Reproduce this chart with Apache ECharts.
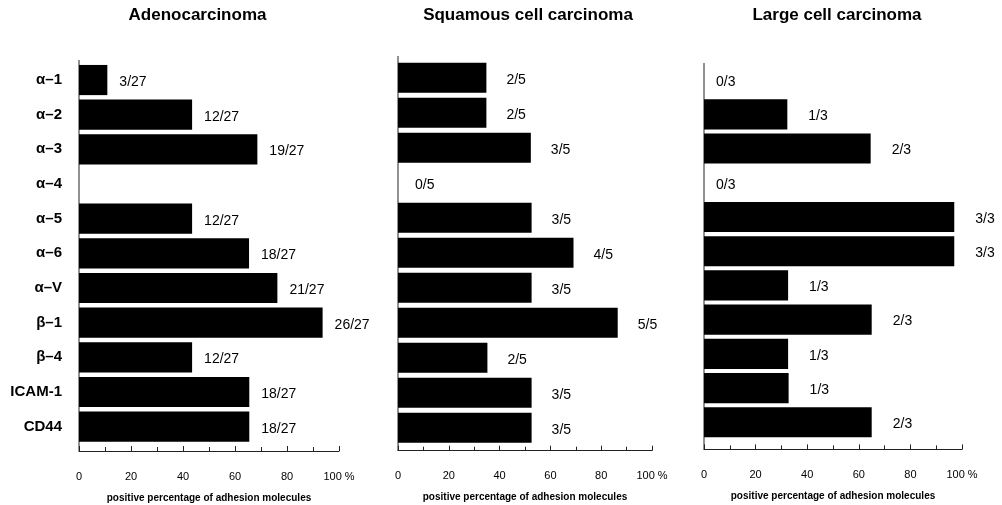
<!DOCTYPE html>
<html>
<head>
<meta charset="utf-8">
<script src="https://cdn.jsdelivr.net/npm/echarts@6/dist/echarts.min.js"></script>
<style>html,body{margin:0;padding:0;background:#fff;}#c{width:1002px;height:505px;}</style>
</head>
<body>
<div id="c"></div>
<script>
var categories = ['α–1','α–2','α–3','α–4','α–5','α–6','α–V','β–1','β–4','ICAM-1','CD44'];
var panelTitles = ['Adenocarcinoma','Squamous cell carcinoma','Large cell carcinoma'];
var adenoValues = [10.9, 43.5, 68.6, 0, 43.5, 65.4, 76.3, 93.7, 43.5, 65.5, 65.5];
var adenoLabels = ['3/27','12/27','19/27','','12/27','18/27','21/27','26/27','12/27','18/27','18/27'];
var squamousValues = [34.8, 34.8, 52.3, 0, 52.6, 69.1, 52.6, 86.5, 35.2, 52.6, 52.6];
var squamousLabels = ['2/5','2/5','3/5','0/5','3/5','4/5','3/5','5/5','2/5','3/5','3/5'];
var largeValues = [0, 32.3, 64.6, 0, 97, 97, 32.6, 65, 32.6, 32.8, 65];
var largeLabels = ['0/3','1/3','2/3','0/3','3/3','3/3','1/3','2/3','1/3','1/3','2/3'];
var xTicks = [0, 20, 40, 60, 80, 100];
var xTitle = 'positive percentage of adhesion molecules';

var FONT = '"Liberation Sans", Arial, sans-serif';
var panels = [
  {values: adenoValues, labels: adenoLabels, grid: {left: 79, width: 260, top: 62.7, height: 381.3}, offset: 7, gap: '13%', dist: 12, zeroDist: 12, axisTop: 60, titleX: 197.5},
  {values: squamousValues, labels: squamousLabels, grid: {left: 398, width: 254, top: 60.2, height: 385}, offset: 5.5, gap: '14%', dist: 20, zeroDist: 17, axisTop: 56, titleX: 528},
  {values: largeValues, labels: largeLabels, grid: {left: 704, width: 258, top: 63, height: 376.4}, offset: 10, gap: '12%', dist: 21, zeroDist: 12, axisTop: 63, titleX: 837}
];

var option = {
  animation: false,
  backgroundColor: '#fff',
  grid: [], xAxis: [], yAxis: [], series: [], graphic: []
};

panels.forEach(function (p, i) {
  option.grid.push(Object.assign({containLabel: false, outerBoundsMode: 'none'}, p.grid));
  option.xAxis.push({
    type: 'value', gridIndex: i, min: xTicks[0], max: xTicks[xTicks.length - 1], interval: xTicks[1] - xTicks[0],
    offset: p.offset,
    axisLine: {show: true, lineStyle: {color: '#222', width: 1}},
    axisTick: {show: true, inside: true, length: 5, lineStyle: {color: '#222'}},
    minorTick: {show: true, splitNumber: 2, length: 4, lineStyle: {color: '#222'}},
    splitLine: {show: false},
    axisLabel: {
      margin: 20, fontSize: 11, color: '#000', fontFamily: FONT,
      formatter: function (v) { return v === 100 ? '100 %' : String(v); }
    },
    name: xTitle, nameLocation: 'middle', nameGap: 42,
    nameTextStyle: {fontSize: 10, fontWeight: 'bold', color: '#000', fontFamily: FONT}
  });
  option.yAxis.push({
    type: 'category', gridIndex: i, data: categories, inverse: true,
    axisLine: {show: false}, axisTick: {show: false}, splitLine: {show: false},
    axisLabel: {show: i === 0, margin: 17, fontSize: 15, fontWeight: 'bold', color: '#000', fontFamily: FONT}
  });
  option.series.push({
    type: 'bar', xAxisIndex: i, yAxisIndex: i,
    barCategoryGap: p.gap,
    itemStyle: {color: '#000'},
    data: p.values.map(function (v, k) {
      return {value: v, label: {distance: v === 0 ? p.zeroDist : p.dist}};
    }),
    label: {
      show: true, position: 'right', fontSize: 14, color: '#000', fontFamily: FONT, offset: [0, 2],
      formatter: function (params) { return p.labels[params.dataIndex]; }
    }
  });
  var axisBottom = p.grid.top + p.grid.height + p.offset;
  option.graphic.push({
    type: 'line', silent: true,
    shape: {x1: p.grid.left, y1: p.axisTop, x2: p.grid.left, y2: axisBottom},
    style: {stroke: '#222', lineWidth: 1}
  });
  option.graphic.push({
    type: 'text', silent: true, x: p.titleX, y: 15,
    style: {text: panelTitles[i], align: 'center', verticalAlign: 'middle', fontSize: 17, fontWeight: 'bold', fontFamily: FONT, fill: '#000'}
  });
});

var chart = echarts.init(document.getElementById('c'), null, {renderer: 'canvas'});
chart.setOption(option);
</script>
</body>
</html>
